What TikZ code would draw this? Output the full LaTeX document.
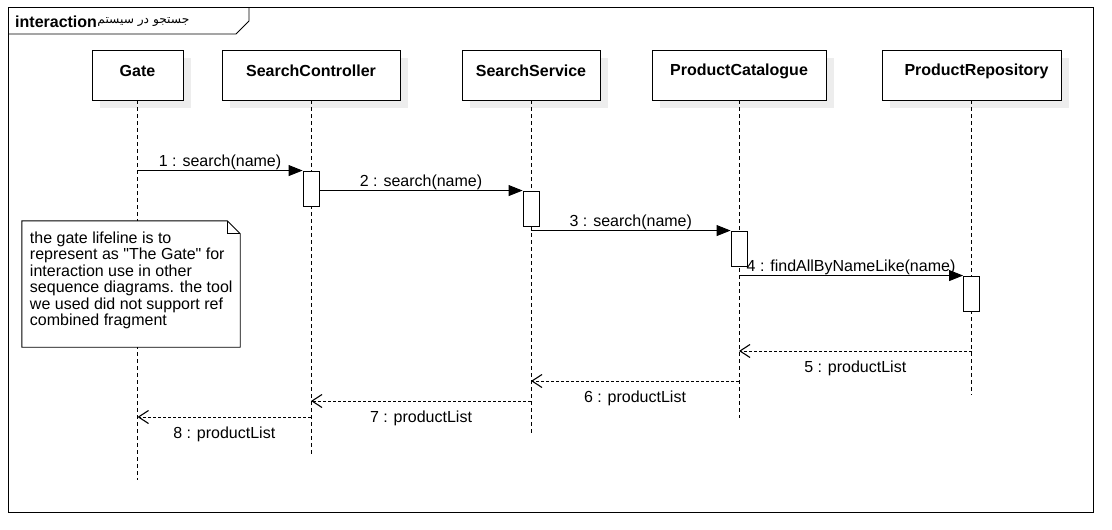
\documentclass[tikz,border=0pt]{standalone}
\usepackage{fontspec}
\setmainfont{Liberation Sans}
\newfontfamily\arabicfont[Script=Arabic]{DejaVu Sans}
\TeXXeTstate=1
\usetikzlibrary{arrows.meta,calc,shadows}
\begin{document}
\begin{tikzpicture}[x=1pt,y=-1pt,
  headbox/.style={draw=black, fill=white, line width=0.9pt, inner sep=0, minimum height=50pt,
    drop shadow={shadow xshift=8pt, shadow yshift=-8pt, fill=black!7, opacity=1}},
  headtxt/.style={font=\fontsize{16}{19}\selectfont\bfseries, inner sep=0},
  lifeline/.style={draw=black, dash pattern=on 4pt off 3pt, line width=0.8pt},
  actbox/.style={draw=black, fill=white, minimum width=16pt, minimum height=35pt, inner sep=0, line width=0.9pt},
  syncmsg/.style={draw=black, line width=0.9pt, -{Triangle[length=14pt,width=11pt]}},
  retmsg/.style={draw=black, line width=0.9pt, dash pattern=on 3pt off 2pt, -{Straight Barb[length=10pt,width=13pt,line width=1.1pt]}},
  msglbl/.style={font=\fontsize{16}{19}\selectfont, inner sep=0},
  notetxt/.style={font=\fontsize{16}{16.4}\selectfont, inner sep=0, align=left}
]
\useasboundingbox (0,0) rectangle (1112,530);
% frame
\draw[line width=0.9pt] (8,7) rectangle (1093,512);
\draw[line width=0.9pt] (8,34) -- (236,34) -- (249,21) -- (249,7);
\node[anchor=west, inner sep=0, font=\fontsize{16}{19}\selectfont\bfseries] (ttl) at (15,22) {interaction};
\node[anchor=west, inner sep=0, font=\fontsize{12.2}{15}\selectfont\arabicfont] (ttlar) at (ttl.east) {\beginR جستجو در سیستم\endR};

% lifeline heads
\node[headbox, minimum width=91pt] (gate) at (137.5,75) {};
\node[headbox, minimum width=178pt] (scon) at (311,75) {};
\node[headbox, minimum width=138pt] (ssvc) at (531,75) {};
\node[headbox, minimum width=174pt] (pcat) at (739,75) {};
\node[headbox, minimum width=179pt] (prepo) at (971.5,75) {};
\node[headtxt] (gateL) at ([yshift=4pt]gate.center) {Gate};
\node[headtxt] (sconL) at ([yshift=4pt]scon.center) {SearchController};
\node[headtxt] (ssvcL) at ([yshift=4pt]ssvc.center) {SearchService};
\node[headtxt] (pcatL) at ([yshift=4pt]pcat.center) {ProductCatalogue};
\node[headtxt] (prepoL) at ([xshift=5pt,yshift=4pt]prepo.center) {ProductRepository};

% lifeline ends
\coordinate (gateE) at (gate |- 0,480);
\coordinate (sconE) at (scon |- 0,457);
\coordinate (ssvcE) at (ssvc |- 0,435);
\coordinate (pcatE) at (pcat |- 0,418);
\coordinate (prepoE) at (prepo |- 0,395);
\draw[lifeline] (gate) -- (gateE);
\draw[lifeline] (scon) -- (sconE);
\draw[lifeline] (ssvc) -- (ssvcE);
\draw[lifeline] (pcat) -- (pcatE);
\draw[lifeline] (prepo) -- (prepoE);

% activations
\node[actbox] (a1) at (scon |- 0,188.5) {};
\node[actbox] (a2) at (ssvc |- 0,208.5) {};
\node[actbox] (a3) at (pcat |- 0,248.5) {};
\node[actbox] (a4) at (prepo |- 0,293.5) {};

% messages
\draw[syncmsg] (gate |- a1.north) -- node[msglbl, yshift=8pt] (l1) {1 : search(name)} (a1.north west);
\draw[syncmsg] (a1.east |- a2.north) -- node[msglbl, yshift=8pt] (l2) {2 : search(name)} (a2.north west);
\draw[syncmsg] (ssvc |- a3.north) -- node[msglbl, yshift=8pt] (l3) {3 : search(name)} (a3.north west);
\draw[syncmsg] (pcat |- a4.north) -- node[msglbl, yshift=8pt] (l4) {4 : findAllByNameLike(name)} (a4.north west);
\draw[retmsg] (prepo |- 0,351) -- node[msglbl, yshift=-17pt] (l5) {5 : productList} (pcat |- 0,351);
\draw[retmsg] (pcat |- 0,381) -- node[msglbl, yshift=-17pt] (l6) {6 : productList} (ssvc |- 0,381);
\draw[retmsg] (ssvc |- 0,401) -- node[msglbl, yshift=-17pt] (l7) {7 : productList} (scon |- 0,401);
\draw[retmsg] (scon |- 0,417) -- node[msglbl, yshift=-17pt] (l8) {8 : productList} (gate |- 0,417);

% note
\node[minimum width=218pt, minimum height=126pt, inner sep=0, fill=white] (note) at (131,284) {};
\draw[line width=0.9pt] (note.north west) -- ([xshift=-13pt]note.north east) -- ([yshift=-13pt]note.north east) -- (note.south east) -- (note.south west) -- cycle;
\draw[line width=0.9pt] ([xshift=-13pt]note.north east) |- ([yshift=-13pt]note.north east);
\node[notetxt, anchor=north west] (notet) at ([xshift=8pt,yshift=-11pt]note.north west) {the gate lifeline is to\\represent as \textquotedbl The Gate\textquotedbl{} for\\interaction use in other\\sequence diagrams. the tool\\we used did not support ref\\combined fragment};
\end{tikzpicture}
\end{document}
